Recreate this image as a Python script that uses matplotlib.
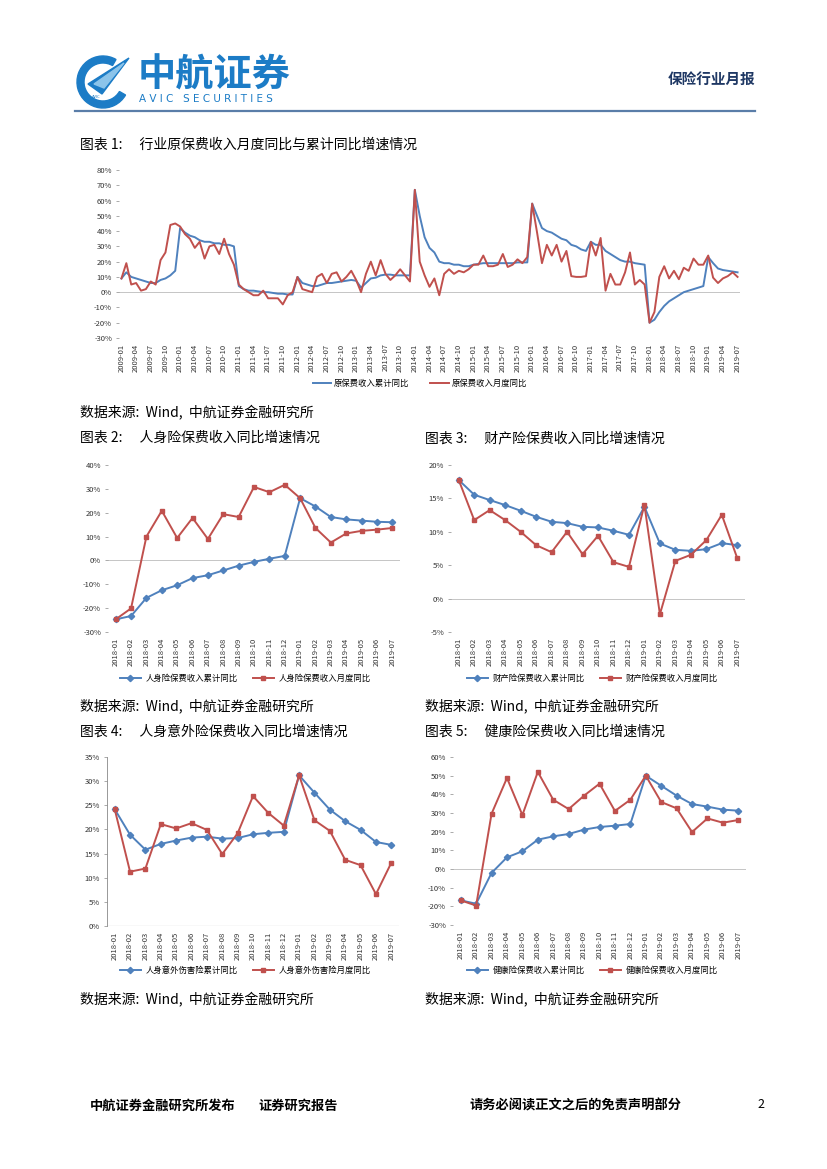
import matplotlib
matplotlib.use('Agg')
import matplotlib.pyplot as plt
import matplotlib.patches as mpatches
from matplotlib.ticker import FuncFormatter
from matplotlib.lines import Line2D
import pandas as pd

plt.rcParams['font.family'] = ['Noto Sans CJK SC', 'DejaVu Sans']
plt.rcParams['axes.unicode_minus'] = False

W, H = 827, 1169
BLUE = '#4F81BD'
RED = '#C0504D'

# 图表1: 2009-01 ~ 2019-07 月度数据
meses_1 = list(pd.period_range('2009-01', '2019-07', freq='M').strftime('%Y-%m'))
acumulado_1 = [
    9, 13, 10, 9, 8, 7, 6, 6, 8, 9, 11, 14,
    42, 39, 37, 36, 34, 33, 33, 32, 32, 31, 31, 30,
    4, 2, 1, 1, 0.5, 0, 0, -0.5, -1, -1, -1.5, -1.5,
    10, 6, 5, 4, 4, 5, 6, 6, 6.5, 7, 7.5, 8,
    7.5, 3, 6, 9, 9.5, 11, 11.5, 11.5, 11, 11, 11, 11,
    67, 50, 36, 29, 26, 20, 19, 19, 18, 18, 17, 17,
    18, 18.5, 19, 19, 19, 19, 19, 19, 19, 19.5, 19.5, 19.5,
    58, 50, 42, 40, 39, 37, 35, 34, 31, 30, 28, 27,
    33, 31, 31, 27, 25, 23, 21, 20, 20, 19, 18.5, 18,
    -20, -18, -13, -9, -6, -4, -2, 0, 1, 2, 3, 4,
    23, 19, 15.5, 14.5, 14, 13.5, 13,
]
mensal_1 = [
    9, 19, 5, 6, 1, 2, 7, 5, 21, 26, 44, 45,
    43, 38, 35, 29, 33, 22, 30, 31, 25, 35, 25, 18,
    5, 2, 0, -2, -2, 1, -4, -4, -4, -8, -2, 0,
    10, 2, 1, 0, 10, 12, 6, 12, 13, 7, 10, 14,
    8, 0, 12, 20, 11, 21, 12, 8, 11, 15, 11, 7,
    67, 20, 11, 3.5, 9, -2, 12, 15, 12, 14, 13, 15,
    18, 18, 24, 17, 17, 18, 25, 16.5, 18, 21.5, 19, 23,
    58, 39, 19, 31, 24, 31, 20, 27, 10.5, 10, 10, 10.5,
    33, 24, 35.5, 1, 12, 5, 5, 13, 26, 5, 8, 5,
    -20, -13, 10, 17, 9, 14, 8.5, 16, 14, 22, 18, 18,
    24, 9.5, 6, 9, 10.5, 13, 10,
]

# 图表2-5: 2018-01 ~ 2019-07
meses = list(pd.period_range('2018-01', '2019-07', freq='M').strftime('%Y-%m'))

vida_acum = [-24.7, -23.3, -15.7, -12.5, -10.4, -7.4, -6.2, -4.2, -2.2, -0.6, 0.7, 1.9,
             26.1, 22.6, 18.2, 17.2, 16.7, 16.2, 16.0]
vida_mes = [-24.7, -20.1, 10.0, 20.8, 9.4, 17.8, 9.0, 19.4, 18.2, 30.8, 28.6, 31.7,
            26.1, 13.6, 7.5, 11.3, 12.4, 12.9, 13.6]

prop_acum = [17.75, 15.55, 14.75, 14.0, 13.15, 12.25, 11.5, 11.3, 10.75, 10.65, 10.15, 9.55,
             13.75, 8.25, 7.3, 7.15, 7.4, 8.3, 8.0]
prop_mes = [17.75, 11.75, 13.25, 11.75, 10.0, 8.0, 6.95, 10.0, 6.65, 9.4, 5.45, 4.75,
            14.05, -2.35, 5.65, 6.55, 8.75, 12.55, 6.05]

acid_acum = [24.2, 18.9, 15.8, 17.0, 17.7, 18.3, 18.5, 18.1, 18.2, 19.0, 19.3, 19.5,
             31.2, 27.6, 24.1, 21.7, 19.9, 17.4, 16.8]
acid_mes = [24.2, 11.25, 11.9, 21.1, 20.2, 21.3, 19.9, 14.9, 19.2, 26.9, 23.4, 20.8,
            31.2, 21.9, 19.7, 13.7, 12.6, 6.6, 13.1]

saude_acum = [-16.8, -18.6, -2.1, 6.25, 9.5, 15.7, 17.5, 18.75, 21.1, 22.5, 23.2, 24.1,
              50.0, 44.6, 39.3, 34.8, 33.4, 31.8, 31.25]
saude_mes = [-16.8, -19.6, 29.6, 48.75, 28.9, 52.0, 37.1, 32.1, 39.3, 45.7, 31.1, 37.1,
             50.0, 35.9, 32.5, 19.8, 27.1, 24.8, 26.25]


def rect(x0, y0, x1, y1):
    # caixa em pixels -> fração da figura [left, bottom, width, height]
    return [x0 / W, 1 - y1 / H, (x1 - x0) / W, (y1 - y0) / H]


def ftext(x, y, s, **kw):
    kw.setdefault('va', 'center')
    fig.text(x / W, 1 - y / H, s, **kw)


pct = FuncFormatter(lambda v, p: f'{v:.0f}%')


def estilo(ax, ylim, ystep, n, zero_line=True, left_spine=False):
    ax.set_xlim(-0.5, n - 0.5)
    ax.set_ylim(*ylim)
    ax.set_yticks(range(ylim[0], ylim[1] + 1, ystep))
    ax.yaxis.set_major_formatter(pct)
    for s in ax.spines.values():
        s.set_visible(False)
    if left_spine:
        ax.spines['left'].set_visible(True)
        ax.spines['left'].set_color('#888888')
        ax.spines['left'].set_linewidth(0.6)
    if zero_line:
        ax.axhline(0, color='#BBBBBB', lw=0.6, zorder=1)
    ax.tick_params(axis='y', labelsize=5.5, length=2, width=0.5, color='#888888', pad=3,
                   labelcolor='#333333')
    ax.tick_params(axis='x', labelsize=5.5, length=0, pad=4, labelcolor='#333333')


fig = plt.figure(figsize=(W / 100, H / 100), dpi=100)

# ---- cabeçalho ----
logo = fig.add_axes(rect(74, 52, 134, 110))
logo.set_xlim(0, 60)
logo.set_ylim(0, 58)
logo.axis('off')
logo.add_patch(mpatches.Wedge((29, 28), 26, 60, 330, width=7, color='#1C7CC6'))
logo.add_patch(mpatches.Polygon([[14, 26], [55, 52], [28, 16]], color='#1C7CC6'))
logo.add_patch(mpatches.Polygon([[20, 26], [50, 47], [30, 22]], color='#8CC4EA'))
logo.text(22, 13, 'AVIC', fontsize=3, color='#1C7CC6', ha='center', va='center')

ftext(138, 75, '中航证券', fontsize=27.5, fontweight='bold', color='#1C7CC6')
ftext(139, 99, 'A V I C   S E C U R I T I E S', fontsize=7.5, color='#1C7CC6',
      family=['DejaVu Sans'])
ftext(755, 79, '保险行业月报', fontsize=10.5, fontweight='bold', color='#1F3864', ha='right')
fig.add_artist(Line2D([75 / W, 755 / W], [1 - 111 / H, 1 - 111 / H], color='#5A7DA8', lw=1.6))

FONTE = '数据来源:  Wind,  中航证券金融研究所'
TFS = 10

# ---- 图表1 ----
ftext(80, 145, '图表 1:\u3000 行业原保费收入月度同比与累计同比增速情况', fontsize=TFS)
ax1 = fig.add_axes(rect(119, 170, 740, 338))
x1 = list(range(len(meses_1)))
ax1.plot(x1, acumulado_1, color=BLUE, lw=1.4, label='原保费收入累计同比', zorder=3)
ax1.plot(x1, mensal_1, color=RED, lw=1.4, label='原保费收入月度同比', zorder=4)
estilo(ax1, (-30, 80), 10, len(meses_1))
ax1.set_xticks(x1[::3])
ax1.set_xticklabels(meses_1[::3], rotation=90)
ax1.legend(loc='center', bbox_to_anchor=(420 / W, 1 - 383 / H), bbox_transform=fig.transFigure,
           ncol=2, frameon=False, fontsize=6, handlelength=2.2, columnspacing=2.5,
           handletextpad=0.4)
ftext(80, 412, FONTE, fontsize=TFS)

# ---- 图表2-5 ----
paineis = [
    ('图表 2:\u3000 人身险保费收入同比增速情况', 80, 438, 706, rect(108, 465, 400, 632), (-30, 40), 10,
     vida_acum, vida_mes, '人身险保费收入累计同比', '人身险保费收入月度同比', (245, 678), False),
    ('图表 3:\u3000 财产险保费收入同比增速情况', 425, 438, 706, rect(451, 465, 745, 632), (-5, 20), 5,
     prop_acum, prop_mes, '财产险保费收入累计同比', '财产险保费收入月度同比', (592, 678), False),
    ('图表 4:\u3000 人身意外险保费收入同比增速情况', 80, 732, 999, rect(107, 757, 399, 926), (0, 35), 5,
     acid_acum, acid_mes, '人身意外伤害险累计同比', '人身意外伤害险月度同比', (245, 970), True),
    ('图表 5:\u3000 健康险保费收入同比增速情况', 425, 732, 999, rect(453, 757, 746, 925), (-30, 60), 10,
     saude_acum, saude_mes, '健康险保费收入累计同比', '健康险保费收入月度同比', (592, 970), False),
]

xm = list(range(len(meses)))
for titulo, tx, ty, fy, r, ylim, ystep, acum, mes, lab_a, lab_m, leg_xy, spine in paineis:
    ftext(tx, ty, titulo, fontsize=TFS)
    ax = fig.add_axes(r)
    ax.plot(xm, acum, color=BLUE, lw=1.4, marker='D', ms=3.2, label=lab_a, zorder=3)
    ax.plot(xm, mes, color=RED, lw=1.4, marker='s', ms=3.2, label=lab_m, zorder=4)
    estilo(ax, ylim, ystep, len(meses), zero_line=True, left_spine=spine)
    if spine:
        ax.axhline(0, color='#888888', lw=0.8, zorder=1)
    ax.set_xticks(xm)
    ax.set_xticklabels(meses, rotation=90)
    ax.legend(loc='center', bbox_to_anchor=(leg_xy[0] / W, 1 - leg_xy[1] / H),
              bbox_transform=fig.transFigure, ncol=2, frameon=False, fontsize=6,
              handlelength=2.6, columnspacing=1.8, handletextpad=0.5)
    ftext(tx, fy, FONTE, fontsize=TFS)

# ---- rodapé ----
ftext(90, 1106, '中航证券金融研究所发布', fontsize=9.5, fontweight='bold')
ftext(258, 1106, '证券研究报告', fontsize=9.5, fontweight='bold')
ftext(470, 1106, '请务必阅读正文之后的免责声明部分', fontsize=9.5, fontweight='bold')
ftext(757, 1104, '2', fontsize=9)

fig.savefig('out.png', dpi=100)
